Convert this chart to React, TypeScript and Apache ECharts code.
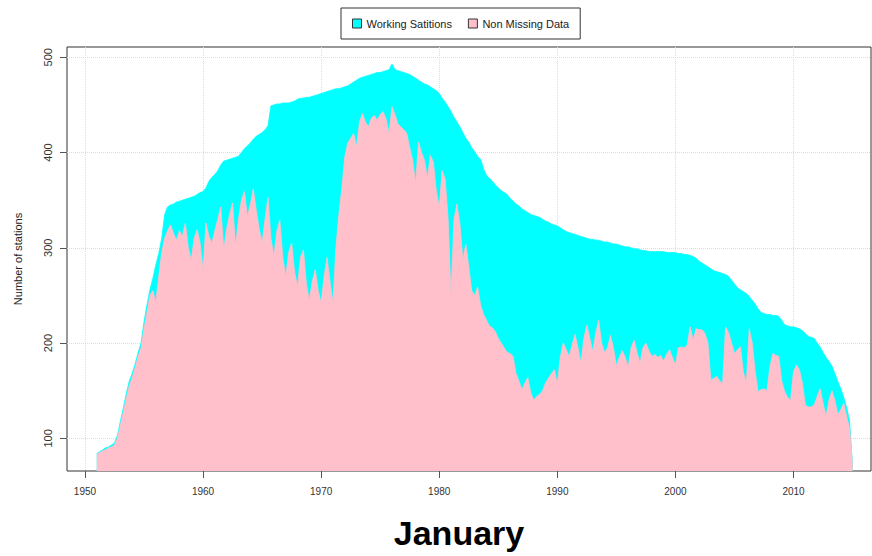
import React, { useEffect, useRef } from "react";
import * as echarts from "echarts";

const startYear = 1951;
const stepYears = 0.25;

// Working stations (cyan), every quarter year from 1951.0 to 2015.0
const working: number[] = [
  84, 86, 88, 90, 91, 93, 95, 103, 118, 132, 147, 160, 168, 178, 190, 200,
  222, 240, 256, 268, 282, 294, 310, 335, 343, 345, 346, 348, 349, 350, 351, 352,
  353, 354, 356, 358, 359, 363, 370, 374, 377, 381, 387, 391, 392, 393, 394, 395,
  396, 400, 404, 407, 410, 414, 417, 419, 421, 424, 428, 449, 450, 451, 451, 452,
  452, 452, 453, 454, 456, 457, 457, 458, 458, 459, 460, 461, 462, 463, 464, 465,
  466, 467, 467, 468, 469, 470, 472, 474, 476, 478, 479, 480, 481, 482, 483, 484,
  484, 485, 486, 487, 493, 487, 486, 485, 484, 483, 482, 480, 478, 476, 474, 472,
  471, 469, 467, 465, 462, 457, 453, 448, 443, 437, 432, 427, 421, 415, 411, 405,
  401, 396, 393, 383, 376, 373, 370, 366, 363, 360, 358, 356, 352, 349, 346, 344,
  341, 339, 337, 335, 334, 333, 332, 330, 328, 327, 325, 324, 323, 321, 319, 317,
  316, 315, 314, 313, 312, 311, 310, 309, 309, 308, 308, 307, 306, 306, 305, 304,
  304, 303, 302, 301, 301, 300, 299, 299, 298, 297, 297, 296, 296, 296, 296, 296,
  296, 295, 295, 295, 295, 294, 294, 293, 293, 292, 291, 289, 286, 284, 282, 280,
  278, 276, 275, 274, 273, 272, 270, 266, 262, 258, 256, 254, 252, 249, 245, 241,
  236, 232, 231, 230, 230, 229, 229, 228, 224, 219, 218, 217, 217, 216, 215, 213,
  210, 207, 206, 205, 200, 196, 190, 185, 181, 176, 168, 160, 152, 143, 132, 118,
  70,
];

// Non missing data (pink), same time steps
const nonMissing: number[] = [
  83, 85, 87, 88, 90, 91, 93, 100, 114, 128, 142, 155, 164, 174, 186, 195,
  215, 232, 250, 255, 243, 270, 295, 310, 318, 324, 315, 308, 318, 312, 326, 300,
  287, 310, 319, 305, 277, 326, 312, 305, 318, 330, 343, 298, 320, 335, 347, 302,
  330, 350, 359, 333, 345, 362, 340, 320, 305, 330, 353, 310, 291, 318, 329, 290,
  270, 295, 305, 275, 259, 290, 298, 262, 245, 265, 277, 255, 242, 270, 290, 265,
  242, 300, 335, 362, 395, 410, 415, 420, 406, 432, 441, 432, 427, 436, 439, 434,
  440, 443, 435, 420, 448, 440, 430, 427, 424, 420, 405, 392, 368, 411, 400, 392,
  373, 397, 390, 360, 343, 381, 372, 330, 250, 330, 346, 325, 287, 304, 280, 255,
  250, 259, 240, 230, 224, 218, 216, 212, 205, 200, 195, 190, 189, 186, 168, 160,
  151, 158, 164, 148, 140, 144, 146, 150, 158, 163, 168, 172, 157, 185, 200, 193,
  186, 198, 209, 195, 179, 205, 219, 205, 191, 210, 224, 200, 190, 195, 208, 195,
  176, 185, 192, 185, 175, 195, 203, 190, 179, 195, 200, 192, 186, 188, 185, 187,
  181, 188, 193, 185, 177, 195, 196, 195, 198, 217, 203, 215, 214, 214, 210, 200,
  161, 163, 165, 160, 158, 217, 211, 200, 189, 193, 196, 170, 158, 215, 200, 170,
  149, 151, 152, 150, 175, 189, 187, 186, 160, 149, 143, 140, 170, 177, 172, 158,
  135, 133, 133, 135, 144, 152, 137, 123, 140, 150, 140, 125, 130, 137, 123, 110,
  70,
];

const xTicks: number[] = [1950, 1960, 1970, 1980, 1990, 2000, 2010];
const yTicks: number[] = [100, 200, 300, 400, 500];

const seriesNames = ["Working Satitions", "Non Missing Data"];
const chartTitle = "January";

export default function App() {
  const ref = useRef<HTMLDivElement>(null);
  useEffect(() => {
    if (!ref.current) return;
    document.body.style.margin = "0";
    const chart = echarts.init(ref.current, null, { renderer: "svg" });
    const toPairs = (arr: number[]) =>
      arr.map((v, i) => [startYear + i * stepYears, v]);
    const font = "'Liberation Sans', Arial, sans-serif";
    chart.setOption({
      animation: false,
      backgroundColor: "#ffffff",
      textStyle: { fontFamily: font },
      legend: {
        left: 341,
        top: 8,
        orient: "horizontal",
        data: seriesNames,
        icon: "rect",
        itemWidth: 9,
        itemHeight: 9,
        itemGap: 16,
        padding: [10, 11, 10, 11],
        borderColor: "#333",
        borderWidth: 1,
        itemStyle: { borderColor: "#333", borderWidth: 1 },
        textStyle: { fontSize: 11, color: "#222", fontFamily: font },
      },
      grid: {
        left: 67,
        right: 1,
        top: 47,
        bottom: 85,
        show: true,
        borderColor: "#333",
        borderWidth: 1,
      },
      xAxis: {
        type: "value",
        min: 1948.48,
        max: 2016.56,
        axisLine: { show: false },
        axisTick: {
          show: true,
          length: 7,
          lineStyle: { color: "#555" },
          customValues: xTicks,
        },
        axisLabel: {
          customValues: xTicks,
          margin: 15,
          fontSize: 10,
          color: "#333",
          fontFamily: font,
          formatter: (v: number) => String(v),
        },
        splitLine: {
          show: true,
          lineStyle: { color: "#dcdcdc", type: "dotted", width: 1 },
        },
      },
      yAxis: {
        type: "value",
        min: 65.7,
        max: 510.8,
        name: "Number of stations",
        nameLocation: "middle",
        nameGap: 44,
        nameRotate: 90,
        nameTextStyle: { fontSize: 11, color: "#222", fontFamily: font },
        axisLine: { show: false },
        axisTick: {
          show: true,
          length: 7,
          lineStyle: { color: "#555" },
          customValues: yTicks,
        },
        axisLabel: {
          customValues: yTicks,
          rotate: 90,
          margin: 14,
          fontSize: 11,
          color: "#333",
          fontFamily: font,
          formatter: (v: number) => String(v),
        },
        splitLine: {
          show: true,
          lineStyle: { color: "#dcdcdc", type: "dotted", width: 1 },
        },
      },
      series: [
        {
          name: seriesNames[0],
          type: "line",
          data: toPairs(working),
          showSymbol: false,
          symbol: "none",
          color: "#00FFFF",
          lineStyle: { color: "#00FFFF", width: 0.8 },
          areaStyle: { color: "#00FFFF", opacity: 1, origin: "start" },
          z: 2,
        },
        {
          name: seriesNames[1],
          type: "line",
          data: toPairs(nonMissing),
          showSymbol: false,
          symbol: "none",
          color: "#FFC0CB",
          lineStyle: { color: "#FFC0CB", width: 0.8 },
          areaStyle: { color: "#FFC0CB", opacity: 1, origin: "start" },
          z: 3,
        },
      ],
      graphic: [
        {
          type: "text",
          x: 459,
          y: 550,
          style: {
            text: chartTitle,
            fontSize: 34,
            fontWeight: "bold",
            fontFamily: font,
            fill: "#000",
            align: "center",
            verticalAlign: "bottom",
          },
        },
      ],
    });
    return () => chart.dispose();
  }, []);
  return (
    <div
      ref={ref}
      style={{ width: 872, height: 556, position: "absolute", left: 0, top: 0 }}
    />
  );
}
